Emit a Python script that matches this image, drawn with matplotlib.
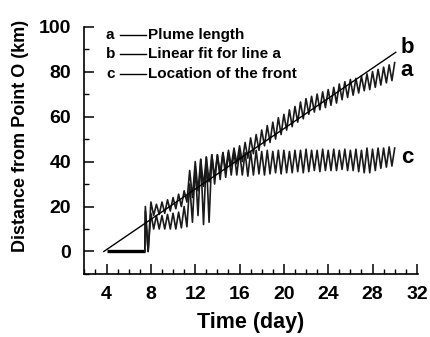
#=== BIBLIOTECAS ===
import numpy as np
import matplotlib
matplotlib.use("Agg")
import matplotlib.pyplot as plt
from matplotlib.ticker import MultipleLocator

plt.rcParams['font.family'] = ['Liberation Sans', 'DejaVu Sans']
plt.rcParams['font.weight'] = 'bold'

#=== Dados ===
# trecho inicial (antes do salto), comum as linhas a e c
t_inicio = [4.0, 7.45]
v_inicio = [0.0, 0.0]

# instantes dos picos / vales (dias)
t_onda = [7.5, 7.75, 8.0, 8.25, 8.5, 8.75, 9.0, 9.25, 9.5, 9.75,
          10.0, 10.25, 10.5, 10.75, 11.0, 11.25, 11.5, 11.75, 12.0, 12.25,
          12.5, 12.75, 13.0, 13.25, 13.5, 13.75, 14.0, 14.25, 14.5, 14.75,
          15.0, 15.25, 15.5, 15.75, 16.0, 16.25, 16.5, 16.75, 17.0, 17.25,
          17.5, 17.75, 18.0, 18.25, 18.5, 18.75, 19.0, 19.25, 19.5, 19.75,
          20.0, 20.25, 20.5, 20.75, 21.0, 21.25, 21.5, 21.75, 22.0, 22.25,
          22.5, 22.75, 23.0, 23.25, 23.5, 23.75, 24.0, 24.25, 24.5, 24.75,
          25.0, 25.25, 25.5, 25.75, 26.0, 26.25, 26.5, 26.75, 27.0, 27.25,
          27.5, 27.75, 28.0, 28.25, 28.5, 28.75, 29.0, 29.25, 29.5, 29.75,
          30.0]

# a: comprimento da pluma (km)
plume = [20, 0, 22, 16, 21, 16.5, 22, 17, 23, 18,
         24, 19, 25.5, 20, 27, 22, 36, 24, 40, 27,
         41, 29, 42, 31, 43, 33, 43, 35, 44, 36,
         45, 38, 46, 39, 47, 40, 48.5, 41.5, 50.5, 43.5,
         52, 45, 54, 47, 56, 48.5, 57.5, 50, 59.5, 52,
         61, 54, 63, 55.5, 64.5, 57.5, 66.5, 59, 68, 61,
         69, 62, 70, 63, 71, 64, 72, 65, 73, 66,
         74.5, 67.5, 75.5, 68.5, 76.5, 69.5, 77, 70.5, 78, 71.5,
         79, 72, 80, 73, 81, 74, 82, 75, 83, 76,
         84]

# c: localizacao da frente (km)
front = [18, 0, 17, 10, 16, 10, 16, 10, 16.5, 10,
         17, 10, 17.5, 10.5, 20, 11, 30, 13, 38, 16,
         41, 12, 42, 13, 43, 30, 43, 32, 44, 33,
         44, 34, 44.5, 34, 44.5, 34, 44, 33.5, 44.5, 34,
         45, 34.5, 44.5, 34, 45, 34.5, 44.5, 35, 45, 34.5,
         45, 35, 44.5, 35, 45, 35.5, 45, 35, 45.5, 35.5,
         45, 36, 45, 35.5, 45.5, 36, 45, 36, 45.5, 36,
         45, 36.5, 45.5, 36, 45, 36, 45.5, 35.5, 45, 35,
         46, 35, 45.5, 36, 46, 37, 46, 37.5, 46.5, 38,
         46]

# b: ajuste linear da linha a (extremos)
t_ajuste = [3.75, 30.1]
v_ajuste = [0.0, 88.6]

rotulos = ['a', 'b', 'c']
legendas = ['Plume length', 'Linear fit for line a', 'Location of the front']

#=== Figura ===
fig = plt.figure(figsize=(4.3, 3.37), dpi=100)
ax = fig.add_axes([0.195, 0.187, 0.777, 0.734])

ax.plot(t_inicio, v_inicio, color='black', lw=2.4, solid_capstyle='butt')
ax.plot(t_inicio[-1:] + t_onda, v_inicio[-1:] + plume, color='#1a1a1a', lw=1.2)
ax.plot(t_inicio[-1:] + t_onda, v_inicio[-1:] + front, color='#1a1a1a', lw=1.2)
ax.plot(t_ajuste, v_ajuste, color='black', lw=1.0)

# rotulos no fim das linhas
ax.text(30.55, 90.5, 'b', fontsize=16, ha='left', va='center')
ax.text(30.55, 80.5, 'a', fontsize=16, ha='left', va='center')
ax.text(30.55, 42.0, 'c', fontsize=16, ha='left', va='center')

# legenda feita a mao
ys = [0.966, 0.890, 0.809]
for r, leg, yy in zip(rotulos, legendas, ys):
    ax.text(0.066, yy, r, transform=ax.transAxes, fontsize=11, ha='left', va='center')
    ax.plot([0.108, 0.186], [yy, yy], transform=ax.transAxes, color='black', lw=1.0)
    ax.text(0.193, yy, leg, transform=ax.transAxes, fontsize=11, ha='left', va='center')

ax.set_xlim(1.95, 32.1)
ax.set_ylim(-10, 100)
ax.xaxis.set_minor_locator(MultipleLocator(1))
ax.yaxis.set_minor_locator(MultipleLocator(10))
ax.set_xticks([4, 8, 12, 16, 20, 24, 28, 32])
ax.set_yticks([0, 20, 40, 60, 80, 100])

ax.spines['top'].set_visible(False)
ax.spines['right'].set_visible(False)
ax.spines['left'].set_linewidth(1.2)
ax.spines['bottom'].set_linewidth(1.2)
ax.tick_params(which='major', direction='in', length=7, width=1.1, labelsize=14, pad=9)
ax.tick_params(which='minor', direction='in', length=3.5, width=1.0)

ax.set_xlabel('Time (day)', fontsize=15.5, fontweight='bold', labelpad=6)
ax.set_ylabel('Distance from Point O (km)', fontsize=13, fontweight='bold')
ax.yaxis.set_label_coords(-0.163, 0.56)

fig.savefig('out.png', dpi=100)
